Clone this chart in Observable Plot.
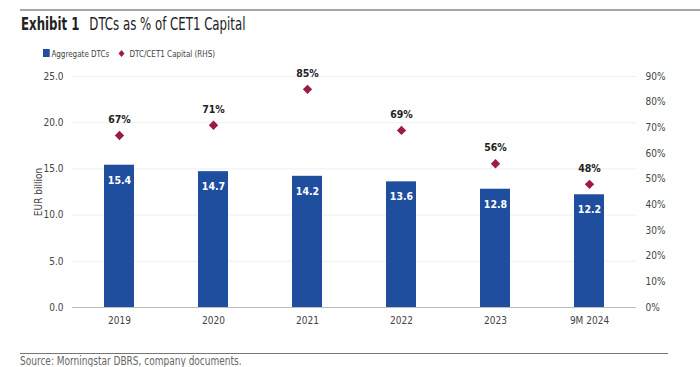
<!DOCTYPE html>
<html><head><meta charset="utf-8">
<script src="https://cdn.jsdelivr.net/npm/d3@7"></script>
<script src="https://cdn.jsdelivr.net/npm/@observablehq/plot@0.6"></script>
<style>
body{margin:0;width:700px;height:367px;overflow:hidden;background:#fff;font-family:"DejaVu Sans",sans-serif;font-stretch:condensed;position:relative;color:#222}
svg, svg text{font-stretch:condensed}
#toprule{position:absolute;left:20px;top:9px;width:680px;height:2px;background:#a6a6a6}
#title{position:absolute;left:21px;top:14px;font-size:17px;white-space:nowrap;transform:scaleX(0.77);transform-origin:0 0}
#title b{margin-right:8px}
#legend{position:absolute;left:43px;top:48px;font-size:9.5px;color:#444;white-space:nowrap;transform:scaleX(0.84);transform-origin:0 0}
#legend span.sq{display:inline-block;width:8px;height:8px;background:#1f4e9f;margin-right:2px;vertical-align:0px}
#legend span.dm{display:inline-block;width:5px;height:5px;background:#9b1b45;transform:rotate(45deg);margin:0 7px 0 12px;vertical-align:1px}
#chart{position:absolute;left:0;top:64px}
#botrule{position:absolute;left:20px;top:353px;width:648px;height:1px;background:#777}
#source{position:absolute;left:20px;top:355px;font-size:11.5px;line-height:12px;color:#666;white-space:nowrap;transform:scaleX(0.87);transform-origin:0 0}
</style></head>
<body>
<div id="toprule"></div>
<div id="title"><b>Exhibit 1</b> DTCs as % of CET1 Capital</div>
<div id="legend"><span class="sq"></span>Aggregate DTCs<span class="dm"></span>DTC/CET1 Capital (RHS)</div>
<div id="chart"></div>
<div id="botrule"></div>
<div id="source">Source: Morningstar DBRS, company documents.</div>
<script>
const years = ["2019","2020","2021","2022","2023","9M 2024"];
const dtcs = [15.4, 14.7, 14.2, 13.6, 12.8, 12.2];
const ratio = [67, 71, 85, 69, 56, 48];
const leftTicks = [0, 5, 10, 15, 20, 25];
const rightTicks = [0, 10, 20, 30, 40, 50, 60, 70, 80, 90];

const k = 25 / 90; // percent -> EUR scale mapping (90% aligns with 25.0)
const data = years.map((y, i) => ({year: y, dtc: dtcs[i], pct: ratio[i], py: ratio[i] * k}));

const blue = "#1f4e9f", red = "#9b1b45";
const font = '"DejaVu Sans",sans-serif';

const chart = Plot.plot({
  width: 700, height: 280,
  marginTop: 12, marginBottom: 37, marginLeft: 72, marginRight: 64,
  style: {fontFamily: font, fontSize: "10px", color: "#444", background: "transparent", fontStretch: "condensed"},
  x: {domain: years, paddingInner: 0.68, paddingOuter: 0.34, label: null},
  y: {domain: [0, 25], label: null},
  marks: [
    Plot.ruleY(leftTicks.slice(1), {stroke: "#efefef", strokeWidth: 1}),
    Plot.barY(data, {x: "year", y: "dtc", fill: blue}),
    Plot.ruleY([0], {stroke: "#bdbdbd", strokeWidth: 1.2}),
    Plot.text(data, {x: "year", y: "dtc", text: d => d.dtc.toFixed(1), dy: 15, fill: "white", fontWeight: "bold", fontSize: 10.5}),
    Plot.dot(data, {x: "year", y: "py", symbol: "diamond2", r: 4.2, fill: red, stroke: "none"}),
    Plot.text(data, {x: "year", y: "py", text: d => d.pct + "%", dy: -16, fill: "#222", fontWeight: "bold", fontSize: 10.5}),
    Plot.axisY(leftTicks, {anchor: "left", tickSize: 0, tickPadding: 9, tickFormat: d => d.toFixed(1), label: null, fontSize: 10}),
    Plot.axisY(rightTicks.map(p => p * k), {anchor: "right", tickSize: 0, tickPadding: 9, tickFormat: d => Math.round(d / k) + "%", label: null, fontSize: 10}),
    Plot.axisX({tickSize: 0, tickPadding: 9, label: null, fontSize: 10}),
    Plot.text(["EUR billion"], {frameAnchor: "left", dx: -34, rotate: -90, textAnchor: "middle", fontSize: 10, fill: "#444"})
  ]
});
document.getElementById("chart").appendChild(chart);
</script>
</body></html>
